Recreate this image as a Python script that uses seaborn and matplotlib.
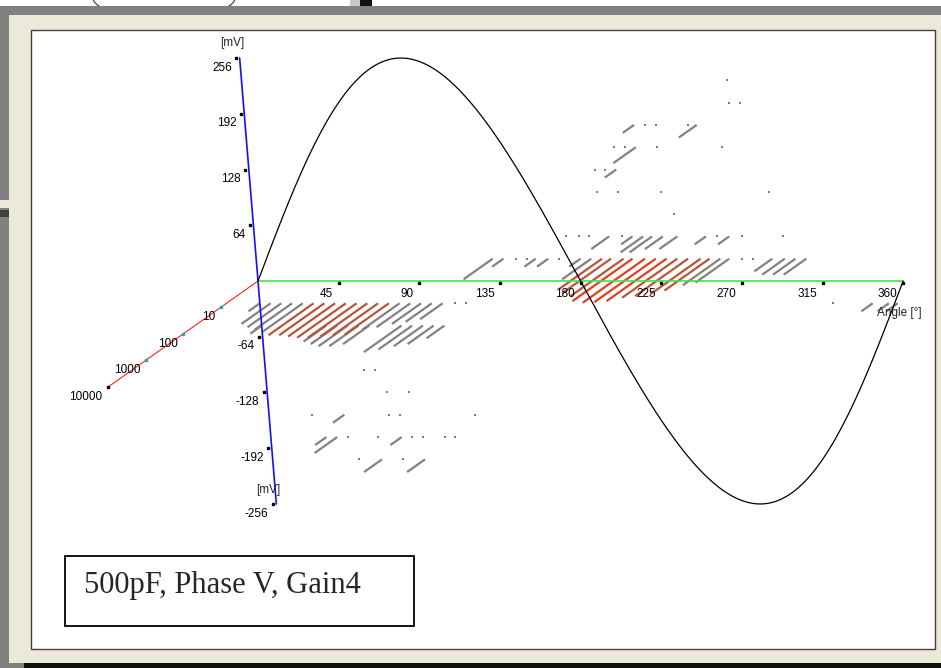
import numpy as np
import pandas as pd
import matplotlib
matplotlib.use("Agg")
import matplotlib.pyplot as plt
import matplotlib.transforms as mtransforms
from matplotlib.patches import Rectangle, Ellipse
from matplotlib.collections import LineCollection
import seaborn as sns

W, H = 941, 668

# ---- data: PD pulses (phase deg, amplitude bin, count) ----
AMP_STEP = 25.6  # mV per amplitude bin

P9_PHASE, P9_COUNT = [271], [1]
P8_PHASE, P8_COUNT = [271, 277], [1, 1]
P7_PHASE, P7_COUNT = [217, 223, 229, 247, 252], [2, 1, 1, 1, 3]
P6_PHASE, P6_COUNT = [205, 211, 217, 229, 265], [1, 1, 4, 1, 1]
P5_PHASE, P5_COUNT = [193, 199, 205], [1, 1, 2]
P4_PHASE, P4_COUNT = [193, 205, 229, 289], [1, 1, 1, 1]
P3_PHASE, P3_COUNT = [235], [1]
P2_PHASE = [174, 181, 187, 198, 205, 211, 217, 222, 228, 236, 252, 258, 265, 272, 295]
P2_COUNT = [1, 1, 1, 3, 1, 2, 4, 4, 3, 3, 2, 1, 2, 1, 1]
P1_PHASE = [132, 138, 145, 151, 156, 163, 169, 181, 187, 193, 198, 205, 210, 217,
            223, 229, 235, 241, 248, 253, 259, 264, 271, 277, 288, 295, 301, 307]
P1_COUNT = [6, 2, 1, 1, 2, 2, 1, 2, 6, 14, 20, 26, 40, 46,
            44, 40, 30, 26, 22, 16, 10, 8, 1, 1, 3, 4, 4, 4]
N1_PHASE = [0, 6, 12, 18, 24, 30, 36, 42, 48, 54, 60, 66, 72, 78, 84, 90, 96, 102,
            109, 115, 320, 342, 351, 356]
N1_COUNT = [2, 6, 8, 10, 12, 16, 16, 18, 20, 20, 18, 16, 15, 10, 8, 6, 5, 4,
            1, 1, 1, 2, 2, 2]
N2_PHASE = [0, 36, 42, 48, 54, 60, 78, 84, 90, 96, 102]
N2_COUNT = [2, 4, 5, 6, 6, 5, 10, 8, 6, 5, 3]
N4_PHASE, N4_COUNT = [55, 61], [1, 1]
N5_PHASE, N5_COUNT = [67, 79], [1, 1]
N6_PHASE, N6_COUNT = [24, 42, 67, 73, 115], [1, 2, 1, 1, 1]
N7_PHASE = [31, 37, 43, 60, 73, 79, 85, 97, 103]
N7_COUNT = [2, 4, 1, 1, 2, 1, 1, 1, 1]
N8_PHASE, N8_COUNT = [48, 61, 73, 85], [1, 3, 1, 3]

ROWS = [(9, P9_PHASE, P9_COUNT), (8, P8_PHASE, P8_COUNT), (7, P7_PHASE, P7_COUNT),
        (6, P6_PHASE, P6_COUNT), (5, P5_PHASE, P5_COUNT), (4, P4_PHASE, P4_COUNT),
        (3, P3_PHASE, P3_COUNT), (2, P2_PHASE, P2_COUNT), (1, P1_PHASE, P1_COUNT),
        (-1, N1_PHASE, N1_COUNT), (-2, N2_PHASE, N2_COUNT), (-4, N4_PHASE, N4_COUNT),
        (-5, N5_PHASE, N5_COUNT), (-6, N6_PHASE, N6_COUNT), (-7, N7_PHASE, N7_COUNT),
        (-8, N8_PHASE, N8_COUNT)]

PHASE_TICKS = [45, 90, 135, 180, 225, 270, 315, 360]
AMP_TICKS = [256, 192, 128, 64, -64, -128, -192, -256]
COUNT_TICKS = [10, 100, 1000, 10000]
SINE_PEAK = 256  # mV

# ---- oblique projection (phase, amplitude, log count) -> plane ----
PX_PER_DEG = 1.792
PX_PER_MV = 0.871
ORIGIN = (258, 281)          # pixel position of phase 0 / 0 mV
TILT = 0.040                 # amplitude axis leans left
DEPTH_X, DEPTH_Y = -20.9, -30.4   # per decade of count


def project(phase, amp, dec=0.0):
    phase, amp, dec = np.asarray(phase, float), np.asarray(amp, float), np.asarray(dec, float)
    return phase - TILT * amp + DEPTH_X * dec, amp + DEPTH_Y * dec


recs = []
for k, ph, cnt in ROWS:
    for p, c in zip(ph, cnt):
        recs.append({"phase": p, "amp": k * AMP_STEP, "count": c})
pulses = pd.DataFrame(recs)
pulses["dec"] = np.log10(pulses["count"])
pulses["x0"], pulses["y0"] = project(pulses["phase"], pulses["amp"])
pulses["x1"], pulses["y1"] = project(pulses["phase"], pulses["amp"], pulses["dec"])

sns.set_theme(style="white")
plt.rcParams["font.family"] = ["Liberation Sans", "DejaVu Sans"]

fig = plt.figure(figsize=(W / 100, H / 100), dpi=100)
fig.patch.set_facecolor("#808080")
pix = mtransforms.Affine2D().scale(1 / W, -1 / H).translate(0, 1) + fig.transFigure


def pix_rect(x, y, w, h, z=-10, **kw):
    fig.patches.append(Rectangle((x, y), w, h, transform=pix, figure=fig, zorder=z, **kw))


# window chrome around the plot
pix_rect(0, 0, W, 7, facecolor="white", lw=0)
fig.patches.append(Ellipse((164, -2), 142, 40, transform=pix, figure=fig, zorder=-9,
                           facecolor="none", edgecolor="#333333", lw=0.8))
pix_rect(350, 0, 10, 7, facecolor="#c8c8c8", lw=0, z=-8)
pix_rect(360, 0, 12, 7, facecolor="#111111", lw=0, z=-8)
pix_rect(0, 6, W, 9, facecolor="#808080", lw=0, z=-7)
pix_rect(9, 15, W - 9, 648, facecolor="#ece9d8", lw=0, z=-6)
pix_rect(0, 200, 9, 8, facecolor="#ece9d8", lw=0, z=-6)
pix_rect(0, 210, 9, 7, facecolor="#404040", lw=0, z=-6)
pix_rect(24, 663, W - 24, 5, facecolor="#111111", lw=0, z=-6)
pix_rect(31, 30, 904, 619, facecolor="white", edgecolor="#404040", lw=1.0, z=-5)

ax = fig.add_axes([0, 0, 1, 1])
ax.set_xlim(-ORIGIN[0] / PX_PER_DEG, (W - ORIGIN[0]) / PX_PER_DEG)
ax.set_ylim(-(H - ORIGIN[1]) / PX_PER_MV, ORIGIN[1] / PX_PER_MV)
ax.axis("off")
ax.patch.set_visible(False)

# pulse bars along the count axis
bars = pulses[pulses["count"] > 1].sort_values("count")
cols = np.where(bars["count"] >= 40, "#e0401f",
                np.where(bars["count"] >= 14, "#b7553f", "#828282"))
segs = np.stack([bars[["x0", "y0"]].to_numpy(), bars[["x1", "y1"]].to_numpy()], axis=1)
ax.add_collection(LineCollection(segs, colors=cols, linewidths=1.6, capstyle="butt", zorder=2))
sns.scatterplot(data=pulses[pulses["count"] == 1], x="x0", y="y0", marker="s", s=3,
                color="#7a7a7a", linewidth=0, ax=ax, zorder=2, legend=False)

# axes of the 3D view
ax.plot(*project([0, 360], [0, 0]), color="#3ee63e", lw=1.2, zorder=3)
ax.plot(*project([0, 0], [-256, 256]), color="#1010ff", lw=1.2, zorder=3)
ax.plot(*project([0, 0], [0, 0], [0, 4]), color="#ff2020", lw=0.8, zorder=3)

# reference sine
sine_phase = np.linspace(0, 360, 361)
sx, sy = project(sine_phase, SINE_PEAK * np.sin(np.radians(sine_phase)))
sns.lineplot(x=sx, y=sy, sort=False, estimator=None, color="black", lw=0.9, ax=ax, zorder=4)

tick_kw = dict(textcoords="offset points", fontsize=8.5, color="black", ha="right", va="center")
for p in PHASE_TICKS:
    x, y = project(p, -2.3)
    ax.plot(x, y, "s", ms=1.6, color="black", zorder=5)
    ax.annotate(str(p), (x, y), xytext=(-4, -8), **tick_kw)
for a in AMP_TICKS:
    x, y = project(-2.0, a)
    ax.plot(x, y, "s", ms=1.6, color="black", zorder=5)
    ax.annotate(str(a), (x, y), xytext=(-3, -7), **tick_kw)
for c in COUNT_TICKS:
    d = np.log10(c)
    x, y = project(0, 0, d)
    ax.plot(x, y, "s", ms=1.8, color="black" if c == COUNT_TICKS[-1] else "#10b0b0", zorder=5)
    ax.annotate(str(c), (x, y), xytext=(-4, -7), **tick_kw)

lab_kw = dict(textcoords="offset points", fontsize=8.5, ha="center", va="center")
ax.annotate("[mV]", project(-2.0, 256), xytext=(-3, 11), **lab_kw)
ax.annotate("[mV]", project(-2.0, -256), xytext=(-3, 10), **lab_kw)
ax.annotate("Angle [°]", project(360, 0), xytext=(-3, -23), **lab_kw)

# caption box
pix_rect(65, 556, 349, 70, z=5, facecolor="white", edgecolor="black", lw=1.3)
fig.text(84, 585, "500pF, Phase V, Gain4", transform=pix, fontsize=22,
         family="Liberation Serif", ha="left", va="center", zorder=6)

fig.savefig("out.png", dpi=100, facecolor=fig.get_facecolor())
